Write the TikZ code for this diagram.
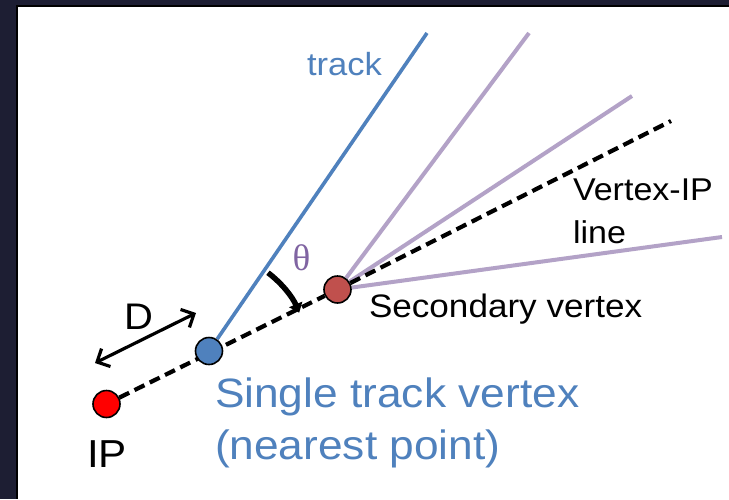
\documentclass[tikz,border=0pt]{standalone}
\usepackage{fontspec}
\setmainfont{Liberation Sans}[FakeStretch=1.08]
\newfontfamily\thetafont{Liberation Serif}
\usetikzlibrary{arrows.meta}
\definecolor{framecol}{HTML}{1D1E33}
\definecolor{ipred}{HTML}{FF0000}
\definecolor{svred}{HTML}{C0504D}
\definecolor{trkblue}{HTML}{4F81BD}
\definecolor{lav}{HTML}{B3A2C7}
\definecolor{thetapurple}{HTML}{8064A2}
\pgfdeclarelayer{bg}
\pgfdeclarelayer{lines}
\pgfsetlayers{bg,lines,main}
\tikzset{
  vtx/.style={circle, draw=black, line width=1.6pt, minimum size=27pt, inner sep=0pt},
  vipline/.style={black, line width=4.2pt, dash pattern=on 11pt off 6pt},
  trackline/.style={trkblue, line width=3.6pt},
  otherline/.style={lav, line width=4pt},
  lbl/.style={anchor=base west, inner sep=0pt, outer sep=0pt},
  darrow/.style={black, line width=3.2pt, {Straight Barb[length=10pt,width=20pt]}-{Straight Barb[length=10pt,width=20pt]}},
  tarrow/.style={black, line width=5.5pt, -{Triangle[length=9pt,width=14pt]}},
}
\begin{document}
\begin{tikzpicture}[x=1pt,y=-1pt]
\useasboundingbox (0,0) rectangle (729,499);
\begin{pgfonlayer}{bg}
\fill[framecol] (0,0) rectangle (729,499);
\fill[black] (16,5) rectangle (729,499);
\fill[white] (18,7) rectangle (729,499);
\end{pgfonlayer}
\node[vtx, fill=ipred] (ip) at (106.5,404) {};
\node[vtx, fill=trkblue] (bv) at (209,351) {};
\node[vtx, fill=svred] (sv) at (337.5,289.5) {};
\coordinate (vend) at (671,121);
\coordinate (tend) at (427,33);
\coordinate (p1) at (529,33);
\coordinate (p2) at (632,96);
\coordinate (p3) at (722,237);
\coordinate (d1) at (95,363);
\coordinate (d2) at (196,313);
\begin{pgfonlayer}{lines}
\draw[otherline] (sv) -- (p1);
\draw[otherline] (sv) -- (p2);
\draw[otherline] (sv) -- (p3);
\draw[vipline] (ip) -- (sv) -- (vend);
\draw[trackline] (bv) -- (tend);
\end{pgfonlayer}
\draw[darrow] (d1) -- (d2);
\draw[tarrow] (bv.center) ++(-53:98) arc[start angle=-53, end angle=-23, radius=98];
\node[lbl, text=trkblue, font=\fontsize{32}{38}\selectfont] (trk) at (307,75) {track};
\node[lbl, font=\fontsize{31.5}{38}\selectfont] (vip) at (573,200) {Vertex-IP};
\node[lbl, font=\fontsize{31.5}{38}\selectfont] (vipl) at (573,243) {line};
\node[lbl, font=\fontsize{32.5}{38}\selectfont] (svl) at (369,317) {Secondary vertex};
\node[lbl, text=trkblue, font=\fontsize{41}{48}\selectfont] (stv) at (215,407) {Single track vertex};
\node[lbl, text=trkblue, font=\fontsize{41}{48}\selectfont] (np) at (215,459) {(nearest point)};
\node[lbl, font=\fontsize{39}{44}\selectfont] (ipl) at (87,467) {IP};
\node[lbl, font=\fontsize{37}{42}\selectfont] (dl) at (124,329) {D};
\node[text=thetapurple, font=\thetafont\fontsize{37}{42}\selectfont, inner sep=0pt] (th) at (301.5,258) {θ};
\end{tikzpicture}
\end{document}
